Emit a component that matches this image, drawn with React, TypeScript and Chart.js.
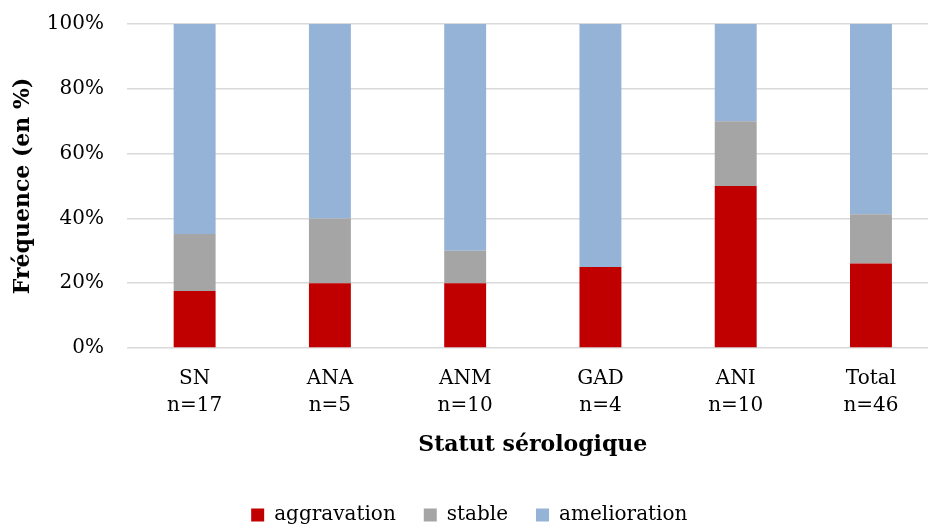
import React, { useEffect, useRef } from "react";
import { Chart, registerables } from "chart.js";

Chart.register(...registerables);

const categories = ["SN", "ANA", "ANM", "GAD", "ANI", "Total"];
const counts = ["n=17", "n=5", "n=10", "n=4", "n=10", "n=46"];
const aggravation = [17.6, 20, 20, 25, 50, 26.1];
const stable = [17.6, 20, 10, 0, 20, 15.2];
const amelioration = [64.8, 60, 70, 75, 30, 58.7];
const yTicks = [0, 20, 40, 60, 80, 100];

const FONT = "'DejaVu Serif', serif";

export default function App() {
  const ref = useRef<HTMLCanvasElement | null>(null);
  useEffect(() => {
    if (!ref.current) return;
    const labels = categories.map((c, i) => [c, counts[i]]);
    const chart = new Chart(ref.current, {
      type: "bar",
      data: {
        labels,
        datasets: [
          { label: "aggravation", data: aggravation, backgroundColor: "#C00000" },
          { label: "stable", data: stable, backgroundColor: "#A5A5A5" },
          { label: "amelioration", data: amelioration, backgroundColor: "#95B3D7" },
        ],
      },
      options: {
        responsive: false,
        animation: false,
        layout: { padding: { top: 5, right: 1.4, bottom: 0, left: 0 } },
        datasets: { bar: { categoryPercentage: 1, barPercentage: 0.31 } } as any,
        scales: {
          x: {
            stacked: true,
            grid: { display: false },
            border: { display: false },
            afterFit: (axis: any) => {
              axis.height = 129;
            },
            ticks: {
              color: "#000",
              padding: 9,
              font: { family: FONT, size: 20, lineHeight: 1.35 },
              maxRotation: 0,
              autoSkip: false,
            },
            title: {
              display: true,
              text: "Statut sérologique",
              color: "#000",
              font: { family: FONT, size: 22, weight: "bold" },
              padding: { top: 0, bottom: 19 },
            },
          },
          y: {
            stacked: true,
            min: 0,
            max: 100,
            afterBuildTicks: (axis: any) => {
              axis.ticks = yTicks.map((v) => ({ value: v }));
            },
            afterFit: (axis: any) => {
              axis.width = 127;
            },
            grid: { color: "#D9D9D9", lineWidth: 1.5, drawTicks: false },
            border: { display: false },
            ticks: {
              color: "#000",
              padding: 23,
              font: { family: FONT, size: 20 },
              callback: (v: any) => v + "%",
            },
            title: {
              display: true,
              text: "Fréquence (en %)",
              color: "#000",
              font: { family: FONT, size: 22, weight: "bold" },
              padding: { top: 10, bottom: 0 },
            },
          },
        },
        plugins: {
          tooltip: { enabled: false },
          legend: {
            position: "bottom",
            labels: {
              color: "#000",
              boxWidth: 13,
              boxHeight: 13,
              padding: 28,
              font: { family: FONT, size: 20 },
            },
          },
        },
      },
    });
    return () => chart.destroy();
  }, []);
  return (
    <div style={{ position: "fixed", left: 0, top: 0, width: 928, height: 525, overflow: "hidden", background: "#fff" }}>
      <canvas
        ref={ref}
        width={940}
        height={546}
        style={{ position: "absolute", left: 0, top: -11, width: 940, height: 546, display: "block" }}
      />
    </div>
  );
}
